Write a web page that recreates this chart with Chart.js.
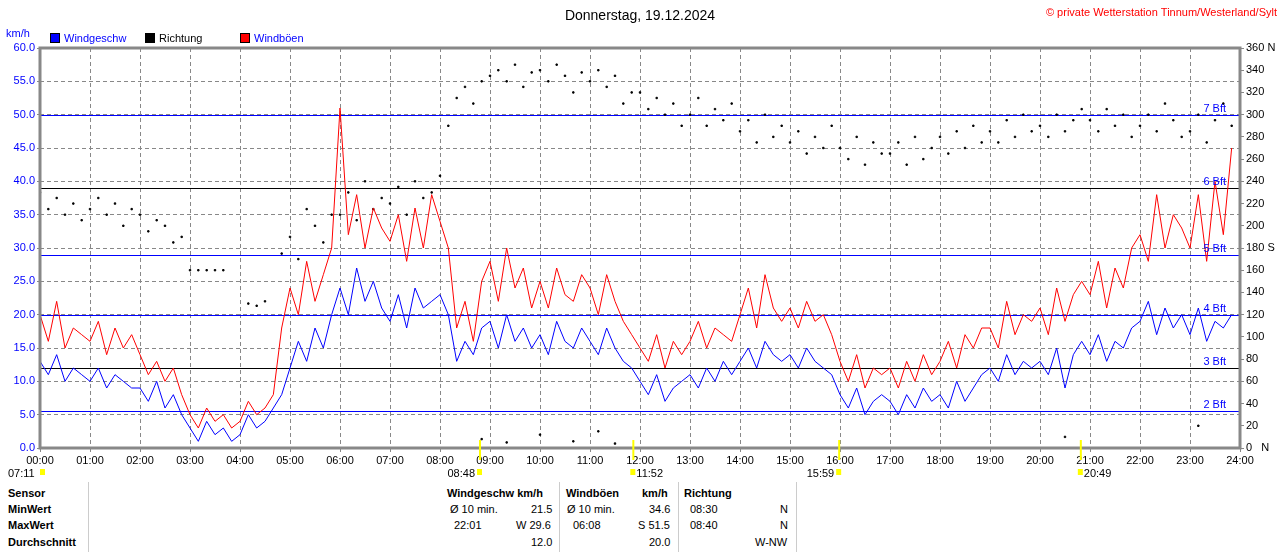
<!DOCTYPE html>
<html lang="de">
<head>
<meta charset="UTF-8">
<title>Wind 19.12.2024</title>
<script src="https://cdn.jsdelivr.net/npm/chart.js"></script>
<style>
  body { margin: 0; background: #fff; font-family: "Liberation Sans", Arial, sans-serif; }
  #wrap { position: relative; width: 1280px; height: 552px; overflow: hidden; }
  canvas { position: absolute; left: 0; top: 0; }
  .t { position: absolute; font-size: 11px; color: #000; white-space: nowrap; }
  .b { font-weight: bold; }
  .vl { position: absolute; top: 482px; height: 70px; border-left: 1px solid #ccc; }
</style>
</head>
<body>
<div id="wrap">
  <canvas id="windChart" width="1280" height="480"></canvas>
  <div class="vl" style="left:88px"></div>
  <div class="vl" style="left:559px"></div>
  <div class="vl" style="left:678px"></div>
  <div class="vl" style="left:796px"></div>
  <div class="t b" style="left:8px;top:487px">Sensor</div>
  <div class="t b" style="left:8px;top:503px">MinWert</div>
  <div class="t b" style="left:8px;top:519px">MaxWert</div>
  <div class="t b" style="left:8px;top:536px">Durchschnitt</div>
  <div class="t b" style="left:447px;top:487px">Windgeschw km/h</div>
  <div class="t b" style="left:566px;top:487px">Windböen</div>
  <div class="t b" style="left:642px;top:487px">km/h</div>
  <div class="t b" style="left:684px;top:487px">Richtung</div>
  <div class="t" style="left:450px;top:503px">Ø 10 min.</div>
  <div class="t" style="left:531px;top:503px">21.5</div>
  <div class="t" style="left:567px;top:503px">Ø 10 min.</div>
  <div class="t" style="left:649px;top:503px">34.6</div>
  <div class="t" style="left:690px;top:503px">08:30</div>
  <div class="t" style="left:780px;top:503px">N</div>
  <div class="t" style="left:454px;top:519px">22:01</div>
  <div class="t" style="left:516px;top:519px">W 29.6</div>
  <div class="t" style="left:573px;top:519px">06:08</div>
  <div class="t" style="left:638px;top:519px">S 51.5</div>
  <div class="t" style="left:690px;top:519px">08:40</div>
  <div class="t" style="left:780px;top:519px">N</div>
  <div class="t" style="left:531px;top:536px">12.0</div>
  <div class="t" style="left:649px;top:536px">20.0</div>
  <div class="t" style="left:755px;top:536px">W-NW</div>
</div>
<script>
// 10-minute values, 00:00 .. 23:50
const windSpeed = [
  13,11,14,10,12,11, 10,12,9,11,10,9, 9,7,10,6,8,5, 3,1,4,2,3,1,
  2,5,3,4,6,8, 12,16,13,18,15,20, 24,20,27,22,25,21, 19,23,18,24,21,22,
  23,20,13,16,14,18, 19,15,20,16,18,15, 17,14,19,16,15,18, 16,14,18,15,13,12,
  10,8,11,7,9,10, 11,9,12,10,13,11, 13,15,12,16,14,13, 14,12,15,13,12,11,
  8,6,9,5,7,8, 7,5,8,6,9,7, 8,6,10,7,9,11, 12,10,14,11,13,12,
  13,11,15,9,14,16, 14,17,13,16,15,18, 19,22,17,21,18,20, 17,21,16,19,18,20
];
const windGusts = [
  20,16,22,15,18,17, 16,19,14,18,15,17, 14,11,13,10,12,8, 5,3,6,4,5,3,
  4,7,5,6,8,18, 24,20,28,22,26,30, 51,32,38,30,36,33, 31,35,28,36,30,38,
  34,30,18,22,16,25, 28,22,30,24,27,21, 25,21,27,23,22,26, 24,20,26,22,19,17,
  15,13,17,12,16,14, 16,19,15,18,17,16, 20,24,18,26,21,19, 21,18,22,19,20,17,
  13,10,14,9,12,11, 12,9,13,10,14,11, 13,16,12,17,15,18, 18,15,22,17,20,19,
  21,17,24,19,23,25, 23,28,21,27,24,30, 32,28,38,30,35,33, 30,38,28,40,32,45
];
const direction = [
  230,215,225,210,220,205, 215,225,210,220,200,215, 210,195,205,200,185,190, 160,160,160,160,160,null,
  null,130,128,132,null,175, 190,170,215,200,185,210, 210,230,205,240,215,225, 220,235,210,240,225,230,
  245,290,315,325,310,330, 335,340,330,345,325,338, 340,330,345,335,320,338, 330,340,325,335,310,320,
  320,305,315,300,310,290, 300,315,290,305,295,310, 285,295,275,300,280,290, 275,285,265,280,270,290,
  270,260,280,255,275,265, 265,275,255,280,260,270, 280,265,285,270,290,275, 285,275,295,280,300,285,
  290,280,300,285,295,305, 295,285,305,290,300,280, 290,300,285,310,295,280, 285,300,275,295,310,290
];
// a few north readings near the bottom
const northTimes = [530, 560, 600, 640, 670, 690, 1230, 1390];
const northDirs = [8, 5, 12, 6, 15, 4, 10, 20];
const hourLabels = ['00:00','01:00','02:00','03:00','04:00','05:00','06:00','07:00','08:00','09:00','10:00','11:00','12:00',
  '13:00','14:00','15:00','16:00','17:00','18:00','19:00','20:00','21:00','22:00','23:00','24:00'];
const bftLevels = [5.5, 12, 20, 29, 39, 50];
const bftNames = ['2 Bft','3 Bft','4 Bft','5 Bft','6 Bft','7 Bft'];
const bftColors = ['#0000ff','#000000','#0000ff','#0000ff','#000000','#0000ff'];
const sunMarks = [[0,'07:11'],[528,'08:48'],[712,'11:52'],[959,'15:59'],[1249,'20:49']];

const pts = arr => arr.map((v, i) => ({ x: i * 10, y: v }));

const extras = {
  id: 'extras',
  beforeDatasetsDraw(chart) {
    const { ctx, chartArea: a, scales } = chart;
    ctx.save();
    bftLevels.forEach((v, i) => {
      const y = Math.round(scales.y.getPixelForValue(v)) + 0.5;
      ctx.strokeStyle = bftColors[i];
      ctx.lineWidth = 1;
      ctx.beginPath(); ctx.moveTo(a.left, y); ctx.lineTo(a.right, y); ctx.stroke();
    });
    ctx.restore();
  },
  afterDatasetsDraw(chart) {
    const { ctx, chartArea: a, scales } = chart;
    ctx.save();
    ctx.font = '11px "Liberation Sans", Arial';
    ctx.fillStyle = '#0000ff';
    ctx.textAlign = 'right';
    bftLevels.forEach((v, i) => {
      ctx.fillText(bftNames[i], a.right - 14, scales.y.getPixelForValue(v) - 3);
    });
    ctx.strokeStyle = '#888'; ctx.lineWidth = 3;
    ctx.strokeRect(a.left, a.top, a.right - a.left, a.bottom - a.top);
    // titles
    ctx.textAlign = 'center'; ctx.fillStyle = '#000';
    ctx.font = '14px "Liberation Sans", Arial';
    ctx.fillText('Donnerstag, 19.12.2024', 640, 20);
    ctx.textAlign = 'right'; ctx.fillStyle = '#ff0000';
    ctx.font = '11px "Liberation Sans", Arial';
    ctx.fillText('© private Wetterstation Tinnum/Westerland/Sylt', 1277, 16);
    ctx.textAlign = 'left'; ctx.fillStyle = '#0000ff';
    ctx.fillText('km/h', 6, 37);
    const leg = [[50, '#0000ff', 'Windgeschw', '#0000ff'], [145, '#000', 'Richtung', '#000'], [240, '#ff0000', 'Windböen', '#0000ff']];
    leg.forEach(([x, c, t, tc]) => {
      ctx.fillStyle = c; ctx.fillRect(x, 33, 10, 10);
      ctx.strokeStyle = '#000'; ctx.lineWidth = 1; ctx.strokeRect(x + 0.5, 33.5, 9, 9);
      ctx.fillStyle = tc; ctx.fillText(t, x + 14, 42);
    });
    // sunrise / noon marks
    sunMarks.forEach(([m, t]) => {
      const x = scales.x.getPixelForValue(m);
      if (m > 0) {
        ctx.strokeStyle = '#ffff00'; ctx.lineWidth = 2;
        ctx.beginPath(); ctx.moveTo(x, a.bottom - 8); ctx.lineTo(x, a.bottom + 12); ctx.stroke();
      }
      ctx.fillStyle = '#000'; ctx.textAlign = m > 0 && m < 700 || m === 959 ? 'right' : 'left';
      const tx = m === 0 ? 8 : (m === 712 || m === 1249) ? x + 3 : x - 5;
      ctx.fillText(t, tx, 477);
      ctx.fillStyle = '#ffff00';
      ctx.fillRect(m === 0 ? 40 : x - 3, 469, 5, 6);
    });
    ctx.restore();
  }
};

new Chart(document.getElementById('windChart'), {
  type: 'line',
  data: {
    datasets: [
      { label: 'Richtung', data: pts(direction).concat(northTimes.map((t, i) => ({ x: t, y: northDirs[i] }))),
        yAxisID: 'y2', showLine: false, pointRadius: 1, pointStyle: 'rect', backgroundColor: '#000', borderColor: '#000', order: 3 },
      { label: 'Windgeschw', data: pts(windSpeed), yAxisID: 'y', borderColor: '#0000ff', borderWidth: 1, pointRadius: 0, order: 1 },
      { label: 'Windböen', data: pts(windGusts), yAxisID: 'y', borderColor: '#ff0000', borderWidth: 1, pointRadius: 0, order: 2 }
    ]
  },
  options: {
    responsive: false, animation: false,
    layout: { padding: { top: 48, left: 0, right: 0, bottom: 0 } },
    plugins: { legend: { display: false }, tooltip: { enabled: false } },
    scales: {
      x: {
        type: 'linear', min: 0, max: 1440,
        afterBuildTicks: s => { s.ticks = hourLabels.map((_, i) => ({ value: i * 60 })); },
        afterFit: s => { s.height = 32; },
        ticks: { autoSkip: false, maxRotation: 0, padding: 2, color: '#000',
          font: { size: 11, family: '"Liberation Sans", Arial' },
          callback: (v) => hourLabels[v / 60] },
        grid: { color: '#888', drawTicks: true, tickLength: 4, tickColor: '#888' },
        border: { dash: [4, 3], display: false }
      },
      y: {
        min: 0, max: 60, position: 'left',
        afterFit: s => { s.width = 40; },
        ticks: { stepSize: 5, color: '#0000ff', padding: 2, callback: v => v.toFixed(1),
          font: { size: 11, family: '"Liberation Sans", Arial' } },
        grid: { color: '#888', tickLength: 3 },
        border: { dash: [4, 3], display: false }
      },
      y2: {
        min: 0, max: 360, position: 'right',
        afterFit: s => { s.width = 40; },
        ticks: { stepSize: 20, color: '#000', padding: 2,
          callback: v => v === 360 ? '360 N' : v === 180 ? '180 S' : v === 0 ? '0   N' : String(v),
          font: { size: 11, family: '"Liberation Sans", Arial' } },
        grid: { drawOnChartArea: false, color: '#888', tickLength: 4 },
        border: { display: false }
      }
    }
  },
  plugins: [extras]
});
</script>
</body>
</html>
